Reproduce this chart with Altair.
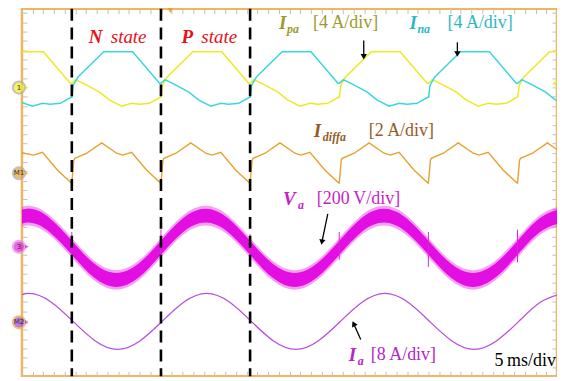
import altair as alt
import pandas as pd

FONT = "Liberation Serif"
T_MAX = 50.0          # 10 div x 5 ms/div
V_TOP = 7.893         # visible vertical divisions (top slightly cropped)

# ---- waveforms (time in ms, level in screen divisions from bottom) ----
ipa_t = [0.00, 2.00, 4.52, 4.65, 5.02, 6.05, 7.26, 8.19, 9.31, 10.24, 10.98, 11.91, 12.92,
         12.99, 13.13, 13.55, 15.97, 18.67, 21.19, 21.32, 21.69, 22.72, 23.93, 24.86, 25.98, 26.91, 27.65, 28.58, 29.59,
         29.66, 29.80, 30.22, 32.64, 35.34, 37.86, 37.99, 38.36, 39.39, 40.60, 41.53, 42.65, 43.58, 44.32, 45.25, 46.26,
         46.33, 46.47, 46.89, 49.31, 50.00]
ipa_v = [6.97, 6.97, 6.29, 6.29, 6.37, 6.25, 6.10, 5.93, 5.80, 5.86, 5.84, 5.86, 5.99,
         5.99, 6.25, 6.42, 6.97, 6.97, 6.29, 6.29, 6.37, 6.25, 6.10, 5.93, 5.80, 5.86, 5.84, 5.86, 5.99,
         5.99, 6.25, 6.42, 6.97, 6.97, 6.29, 6.29, 6.37, 6.25, 6.10, 5.93, 5.80, 5.86, 5.84, 5.86, 5.99,
         5.99, 6.25, 6.42, 6.97, 6.97]

ina_t = [0.00, 0.98, 1.91, 2.65, 3.58, 4.59,
         4.66, 4.80, 5.22, 7.64, 10.34, 12.86, 12.99, 13.36, 14.39, 15.60, 16.53, 17.65, 18.58, 19.32, 20.25, 21.26,
         21.33, 21.47, 21.89, 24.31, 27.01, 29.53, 29.66, 30.03, 31.06, 32.27, 33.20, 34.32, 35.25, 35.99, 36.92, 37.93,
         38.00, 38.14, 38.56, 40.98, 43.68, 46.20, 46.33, 46.70, 47.73, 48.94, 49.87, 50.00]
ina_v = [5.88, 5.80, 5.86, 5.84, 5.86, 5.99,
         5.99, 6.25, 6.42, 6.97, 6.97, 6.29, 6.29, 6.37, 6.25, 6.10, 5.93, 5.80, 5.86, 5.84, 5.86, 5.99,
         5.99, 6.25, 6.42, 6.97, 6.97, 6.29, 6.29, 6.37, 6.25, 6.10, 5.93, 5.80, 5.86, 5.84, 5.86, 5.99,
         5.99, 6.25, 6.42, 6.97, 6.97, 6.29, 6.29, 6.37, 6.25, 6.10, 5.93, 5.92]

idiff_t = [0.00, 1.08, 1.92, 3.31, 4.62,
           4.66, 4.85, 4.94, 6.06, 7.45, 8.85, 9.41, 10.25, 11.64, 12.95,
           12.99, 13.18, 13.27, 14.39, 15.78, 17.18, 17.74, 18.58, 19.97, 21.28,
           21.32, 21.51, 21.60, 22.72, 24.11, 25.51, 26.07, 26.91, 28.30, 29.61,
           29.65, 29.84, 29.93, 31.05, 32.44, 33.84, 34.40, 35.24, 36.63, 37.94,
           37.98, 38.17, 38.26, 39.38, 40.77, 42.17, 42.73, 43.57, 44.96, 46.27,
           46.31, 46.50, 46.59, 47.71, 49.10, 50.00]
idiff_v = [4.80, 4.75, 4.81, 4.43, 4.15,
           4.15, 4.64, 4.68, 4.79, 5.01, 4.79, 4.75, 4.81, 4.43, 4.15,
           4.15, 4.64, 4.68, 4.79, 5.01, 4.79, 4.75, 4.81, 4.43, 4.15,
           4.15, 4.64, 4.68, 4.79, 5.01, 4.79, 4.75, 4.81, 4.43, 4.15,
           4.15, 4.64, 4.68, 4.79, 5.01, 4.79, 4.75, 4.81, 4.43, 4.15,
           4.15, 4.64, 4.68, 4.79, 5.01, 4.79, 4.75, 4.81, 4.43, 4.15,
           4.15, 4.64, 4.68, 4.79, 5.01, 4.87]

va_t = [-1.59, 0.49, 2.57, 4.66, 6.74, 8.82, 10.91, 12.99, 15.07, 17.16, 19.24, 21.32, 23.41,
        25.49, 27.57, 29.66, 31.74, 33.82, 35.91, 37.99, 40.07, 42.16, 44.24, 46.32, 48.41, 50.49]
va_c = [3.25, 3.45, 3.25, 2.76, 2.27, 2.07, 2.27, 2.76, 3.25, 3.45, 3.25, 2.76, 2.27,
        2.07, 2.27, 2.76, 3.25, 3.45, 3.25, 2.76, 2.27, 2.07, 2.27, 2.76, 3.25, 3.45]
va_noise_core = 0.15
va_noise_fuzz = 0.21
spike_t = [4.66, 12.99, 21.32, 29.65, 37.98, 46.31]
spike_lo = [2.45, 2.40, 2.45, 2.50, 2.35, 2.45]
spike_hi = [3.10, 3.15, 3.05, 3.10, 3.10, 3.15]

ia_t = [-1.48, 0.60, 2.68, 4.77, 6.85, 8.93, 11.02, 13.10, 15.18, 17.26, 19.35, 21.43, 23.51,
        25.60, 27.68, 29.76, 31.85, 33.93, 36.01, 38.09, 40.18, 42.26, 44.34, 46.43, 48.51, 50.59]
ia_v = [1.60, 1.78, 1.60, 1.18, 0.76, 0.58, 0.76, 1.18, 1.60, 1.78, 1.60, 1.18, 0.76,
        0.58, 0.76, 1.18, 1.60, 1.78, 1.60, 1.18, 0.76, 0.58, 0.76, 1.18, 1.60, 1.78]

dash_t = [4.66, 12.99, 21.32]

# frame ticks
x_ticks = [float(i) for i in range(51)]
y_ticks = [round(i * 0.2, 1) for i in range(40)]

# channel markers on left edge
mk_v = [6.20, 4.36, 2.78, 1.16]
mk_text = ["1", "M1", "3", "M2"]
mk_fill = ["#f2ec1c", "#e9a030", "#e020e0", "#9a48d8"]
mk_stroke = ["#a8a8a8", "#a8a8a8", "#e888e8", "#f0a040"]

# annotations
ann_text = ["N", "state", "P", "state",
            "I", "pa", "[4\u2009A/div]",
            "I", "na", "[4\u2009A/div]",
            "I", "diffa", "[2\u2009A/div]",
            "V", "a", "[200\u2009V/div]",
            "I", "a", "[8\u2009A/div]",
            "5\u2009ms/div"]
ann_t = [6.24, 8.30, 14.90, 16.76,
         24.02, 24.77, 27.19,
         36.22, 36.96, 39.76,
         27.28, 28.12, 32.40,
         24.39, 25.79, 27.56,
         30.54, 31.38, 32.59,
         49.90]
ann_v = [7.29, 7.29, 7.29, 7.29,
         7.58, 7.45, 7.58,
         7.58, 7.45, 7.58,
         5.27, 5.14, 5.27,
         3.80, 3.67, 3.80,
         0.45, 0.33, 0.45,
         0.32]
ann_color = ["#e8101a"] * 4 + ["#9c9a2a"] * 3 + ["#2cb8c4"] * 3 + ["#955a1f"] * 3 + \
            ["#c71fc7"] * 3 + ["#b526c4"] * 3 + ["#000000"]
ann_size = [19, 19, 19, 19, 19, 12, 18, 19, 12, 18, 19, 12, 18, 19, 12, 18, 19, 12, 18, 18]
ann_style = ["bi", "i", "bi", "i", "bi", "bi", "n", "bi", "bi", "n", "bi", "bi", "n",
             "bi", "bi", "n", "bi", "bi", "n", "n"]
ann_align = ["left"] * 19 + ["right"]

# arrows (shaft start -> tip)
arr_t0 = [31.94, 40.69, 28.58, 31.66]
arr_v0 = [7.21, 7.17, 3.49, 0.79]
arr_t1 = [31.94, 40.69, 28.03, 31.00]
arr_v1 = [6.86, 6.92, 2.88, 1.13]
arr_ang = [0, 0, 11, 155]

xs = alt.Scale(domain=[0, T_MAX], nice=False, zero=False)
ys = alt.Scale(domain=[0, V_TOP], nice=False, zero=False)
TICK = dict(labels=False, title=None, domain=False, grid=False, tickSize=5,
            tickColor="#c0c0c0", tickWidth=1, offset=-5)


def line(t, v, color, width, interp="linear", xaxis=None, yaxis=None):
    df = pd.DataFrame({"t": t, "v": v})
    return alt.Chart(df).mark_line(color=color, strokeWidth=width, interpolate=interp, clip=True).encode(
        x=alt.X("t:Q", scale=xs, axis=xaxis), y=alt.Y("v:Q", scale=ys, axis=yaxis))


ipa = line(ipa_t, ipa_v, "#ecea22", 1.5,
           xaxis=alt.Axis(orient="bottom", values=x_ticks, **TICK),
           yaxis=alt.Axis(orient="left", values=y_ticks, **TICK))
ina = line(ina_t, ina_v, "#3ad6e2", 1.5,
           xaxis=alt.Axis(orient="top", values=x_ticks, **TICK),
           yaxis=alt.Axis(orient="right", values=y_ticks, **TICK))
idiff = line(idiff_t, idiff_v, "#e9a02c", 1.4)
ia = line(ia_t, ia_v, "#b450e2", 1.3, interp="natural")

va_df = pd.DataFrame({"t": va_t, "c": va_c})
va_df["lo"] = va_df["c"] - va_noise_core
va_df["hi"] = va_df["c"] + va_noise_core
va_df["flo"] = va_df["c"] - va_noise_fuzz
va_df["fhi"] = va_df["c"] + va_noise_fuzz
va_fuzz = alt.Chart(va_df).mark_area(color="#e414e4", opacity=0.4, interpolate="natural", clip=True).encode(
    x=alt.X("t:Q", scale=xs, axis=None), y=alt.Y("flo:Q", scale=ys, axis=None), y2="fhi:Q")
va_core = alt.Chart(va_df).mark_area(color="#e20ee2", interpolate="natural", clip=True).encode(
    x=alt.X("t:Q", scale=xs, axis=None), y=alt.Y("lo:Q", scale=ys, axis=None), y2="hi:Q")
spikes = alt.Chart(pd.DataFrame({"t": spike_t, "lo": spike_lo, "hi": spike_hi})).mark_rule(
    color="#e020e0", strokeWidth=1).encode(
    x=alt.X("t:Q", scale=xs, axis=None), y=alt.Y("lo:Q", scale=ys, axis=None), y2="hi:Q")

dashes = alt.Chart(pd.DataFrame({"t": dash_t})).mark_rule(
    color="black", strokeWidth=2.6, strokeDash=[12, 7]).encode(x=alt.X("t:Q", scale=xs, axis=None))

mk_df = pd.DataFrame({"t": [-0.28] * 4, "v": mk_v, "txt": mk_text, "fill": mk_fill, "stroke": mk_stroke,
                      "ta": [0.45] * 4})
markers = alt.Chart(mk_df).mark_point(filled=False, shape="circle", size=150, strokeWidth=2, clip=False).encode(
    x=alt.X("t:Q", scale=xs, axis=None), y=alt.Y("v:Q", scale=ys, axis=None),
    fill=alt.Fill("fill:N", scale=None), stroke=alt.Stroke("stroke:N", scale=None))
mk_arrows = alt.Chart(mk_df).mark_point(shape="triangle-right", filled=True, size=18, clip=False).encode(
    x=alt.X("ta:Q", scale=xs, axis=None), y=alt.Y("v:Q", scale=ys, axis=None),
    color=alt.Color("fill:N", scale=None))
mk_labels = alt.Chart(mk_df).mark_text(fontSize=7, font="DejaVu Sans", color="#333333", clip=False).encode(
    x=alt.X("t:Q", scale=xs, axis=None), y=alt.Y("v:Q", scale=ys, axis=None), text="txt:N")

trig = alt.Chart(pd.DataFrame({"t": [13.87], "v": [V_TOP - 0.03]})).mark_point(
    shape="triangle-down", filled=True, size=45, color="#f0a030", opacity=1).encode(
    x=alt.X("t:Q", scale=xs, axis=None), y=alt.Y("v:Q", scale=ys, axis=None))
lvl = alt.Chart(pd.DataFrame({"t": [49.75], "v": [6.29]})).mark_point(
    shape="triangle-left", filled=True, size=22, color="#ecea22", opacity=1).encode(
    x=alt.X("t:Q", scale=xs, axis=None), y=alt.Y("v:Q", scale=ys, axis=None))

arr_df = pd.DataFrame({"t0": arr_t0, "v0": arr_v0, "t1": arr_t1, "v1": arr_v1, "ang": arr_ang})
shafts = alt.Chart(arr_df).mark_rule(color="black", strokeWidth=1.3).encode(
    x=alt.X("t0:Q", scale=xs, axis=None), y=alt.Y("v0:Q", scale=ys, axis=None), x2="t1:Q", y2="v1:Q")
heads = alt.Chart(arr_df).mark_point(shape="triangle-down", filled=True, size=40, color="black", opacity=1).encode(
    x=alt.X("t1:Q", scale=xs, axis=None), y=alt.Y("v1:Q", scale=ys, axis=None),
    angle=alt.Angle("ang:Q", scale=None))

ann_df = pd.DataFrame({"t": ann_t, "v": ann_v, "txt": ann_text, "col": ann_color, "sz": ann_size,
                       "sty": ann_style, "al": ann_align})
STY = {"bi": ("bold", "italic"), "i": ("normal", "italic"), "n": ("normal", "normal")}
ann_layers = []
for (sty, al), sub in ann_df.groupby(["sty", "al"]):
    w, s = STY[sty]
    ann_layers.append(
        alt.Chart(sub).mark_text(align=al, baseline="middle", font=FONT, fontWeight=w, fontStyle=s).encode(
            x=alt.X("t:Q", scale=xs, axis=None), y=alt.Y("v:Q", scale=ys, axis=None), text="txt:N",
            color=alt.Color("col:N", scale=None), size=alt.Size("sz:Q", scale=None)))

chart = alt.layer(ipa, ina, idiff, va_fuzz, va_core, spikes, ia, dashes, markers, mk_arrows, mk_labels,
                  trig, lvl, shafts, heads, *ann_layers).resolve_axis(
    x="independent", y="independent").properties(
    width=537, height=369, autosize="none",
    padding={"left": 14, "top": 0, "right": 0, "bottom": 0},
    background="white").configure_view(stroke="#f3b55c", strokeWidth=2.5)

chart.save("out.html", embed_options={"renderer": "svg", "actions": False})
